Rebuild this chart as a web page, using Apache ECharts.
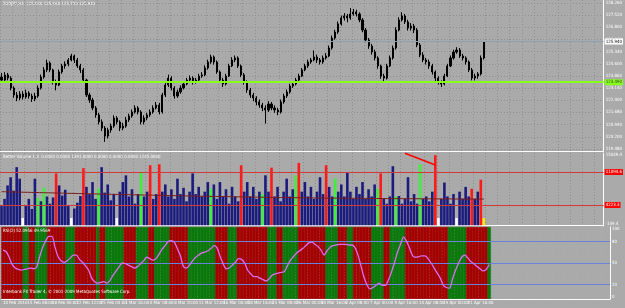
<!DOCTYPE html>
<html><head><meta charset="utf-8">
<script src="https://cdn.jsdelivr.net/npm/echarts@6/dist/echarts.min.js"></script>
<style>html,body{margin:0;padding:0;background:#aaaaaa;overflow:hidden}#c{width:625px;height:308px}</style>
</head><body><div id="c"></div>
<script>
// ---------- DATA ----------
const tickLabels = ["10 Feb 2010","15 Feb 08:00","18 Feb 00:00","22 Feb 12:00","25 Feb 04:00","1 Mar 16:00","4 Mar 08:00","8 Mar 20:00","11 Mar 12:00","16 Mar 00:00","18 Mar 16:00","23 Mar 08:00","26 Mar 00:00","30 Mar 16:00","2 Apr 08:00","7 Apr 00:00","9 Apr 16:00","14 Apr 08:00","19 Apr 00:00","21 Apr 16:00"];
const priceTicks = [119.48,120.20,120.94,121.68,122.40,123.14,123.86,124.60,125.34,126.06,126.80,127.52,128.26];
const opens = [123.80,123.62,123.93,123.74,123.14,122.72,122.54,122.78,122.60,122.84,
122.66,122.48,122.66,123.14,123.80,124.23,124.65,124.23,123.50,123.32,
124.11,124.47,124.59,124.83,125.07,124.83,124.47,124.23,123.62,122.72,
122.42,121.94,121.52,121.10,120.73,120.25,120.61,120.85,121.34,121.10,
120.73,120.85,121.22,121.46,121.70,121.94,121.70,121.10,121.34,121.52,
121.70,121.94,122.12,121.70,122.72,123.32,123.74,123.14,122.66,122.90,
123.14,123.38,123.62,123.74,123.50,123.62,123.86,123.93,124.35,124.71,
125.01,124.71,124.11,123.62,123.38,123.86,124.47,124.83,124.95,124.47,
123.93,123.50,123.02,122.72,122.54,122.30,122.12,121.94,121.82,122.18,
121.94,121.82,121.70,122.30,122.66,122.90,123.26,123.38,123.62,123.86,
124.23,124.47,124.71,124.83,125.01,124.83,124.71,124.95,125.07,125.55,
126.15,126.51,127.00,127.36,127.48,127.36,127.60,127.72,127.60,127.24,
126.63,126.03,125.67,125.31,124.95,124.47,123.86,123.74,124.47,124.95,
125.55,126.63,127.24,127.48,127.12,126.75,126.87,126.63,125.73,125.13,
124.83,124.71,124.47,124.11,123.74,123.50,123.38,123.86,124.47,124.95,
125.31,125.43,125.07,124.95,124.71,124.23,123.74,123.86,123.99,124.95];
const closes = [123.62,123.93,123.74,123.14,122.72,122.54,122.78,122.60,122.84,122.66,
122.48,122.66,123.14,123.80,124.23,124.65,124.23,123.50,123.32,124.11,
124.47,124.59,124.83,125.07,124.83,124.47,124.23,123.62,122.72,122.42,
121.94,121.52,121.10,120.73,120.25,120.61,120.85,121.34,121.10,120.73,
120.85,121.22,121.46,121.70,121.94,121.70,121.10,121.34,121.52,121.70,
121.94,122.12,121.70,122.72,123.32,123.74,123.14,122.66,122.90,123.14,
123.38,123.62,123.74,123.50,123.62,123.86,123.93,124.35,124.71,125.01,
124.71,124.11,123.62,123.38,123.86,124.47,124.83,124.95,124.47,123.93,
123.50,123.02,122.72,122.54,122.30,122.12,121.94,121.82,122.18,121.94,
121.82,121.70,122.30,122.66,122.90,123.26,123.38,123.62,123.86,124.23,
124.47,124.71,124.83,125.01,124.83,124.71,124.95,125.07,125.55,126.15,
126.51,127.00,127.36,127.48,127.36,127.60,127.72,127.60,127.24,126.63,
126.03,125.67,125.31,124.95,124.47,123.86,123.74,124.47,124.95,125.55,
126.63,127.24,127.48,127.12,126.75,126.87,126.63,125.73,125.13,124.83,
124.71,124.47,124.11,123.74,123.50,123.38,123.86,124.47,124.95,125.31,
125.43,125.07,124.95,124.71,124.23,123.74,123.86,123.99,124.95,125.94];
const lows = [123.45,123.50,123.60,123.00,122.55,122.35,122.40,122.45,122.50,122.50,
122.30,122.35,122.55,123.05,123.70,124.10,124.10,123.35,123.00,123.25,
124.00,124.30,124.45,124.75,124.65,124.35,124.05,123.50,122.60,122.25,
121.80,121.35,120.95,120.55,119.90,120.10,120.45,120.75,120.95,120.55,
120.60,120.75,121.10,121.35,121.60,121.55,120.95,120.95,121.20,121.40,
121.60,121.85,121.55,121.60,122.60,123.20,123.00,122.50,122.55,122.80,
123.05,123.30,123.50,123.35,123.40,123.55,123.75,123.85,124.25,124.60,
124.55,124.00,123.45,123.20,123.30,123.80,124.40,124.70,124.35,123.80,
123.35,122.85,122.55,122.35,122.10,121.95,121.75,121.00,121.70,121.80,
121.65,121.50,121.60,122.20,122.55,122.80,123.15,123.30,123.50,123.80,
124.15,124.35,124.60,124.75,124.65,124.55,124.60,124.85,125.00,125.45,
126.05,126.40,126.90,127.20,127.10,127.25,127.50,127.45,127.10,126.50,
125.90,125.50,125.15,124.80,124.30,123.70,123.55,123.65,124.40,124.85,
125.45,126.55,127.15,127.00,126.60,126.60,126.45,125.60,125.00,124.70,
124.55,124.30,123.95,123.55,123.35,123.20,123.30,123.80,124.40,124.85,
125.20,124.95,124.80,124.55,124.10,123.60,123.60,123.70,123.90,124.85];
const highs = [124.05,124.10,124.05,123.85,123.25,122.90,122.95,122.95,123.05,122.95,
122.80,122.85,123.30,123.95,124.40,124.85,124.75,124.30,123.65,124.25,
124.60,124.75,124.95,125.20,125.15,124.95,124.60,124.35,123.70,122.85,
122.55,122.05,121.65,121.25,120.85,120.75,121.00,121.50,121.45,121.20,
121.05,121.40,121.60,121.85,122.10,122.05,121.80,121.50,121.65,121.85,
122.10,122.30,122.25,122.85,123.45,123.95,123.85,123.25,123.05,123.30,
123.50,123.75,123.90,123.85,123.75,124.00,124.10,124.50,124.85,125.15,
125.10,124.80,124.20,123.75,124.00,124.60,125.00,125.10,125.05,124.55,
124.05,123.60,123.15,122.85,122.65,122.45,122.25,122.10,122.35,122.30,
122.10,121.95,122.45,122.80,123.05,123.40,123.55,123.75,124.00,124.35,
124.60,124.85,124.95,125.40,125.15,124.95,125.10,125.25,125.70,126.30,
126.65,127.15,127.50,127.65,127.60,127.95,127.90,127.85,127.70,127.35,
126.75,126.15,125.80,125.45,125.05,124.55,124.00,124.60,125.10,125.70,
126.80,127.40,127.70,127.60,127.25,127.05,127.00,126.75,125.85,125.30,
124.95,124.85,124.60,124.20,123.85,123.60,124.00,124.60,125.10,125.45,
125.60,125.55,125.20,125.05,124.80,124.35,124.00,124.10,125.10,125.96];
const currentPrice = 125.94;
const greenLevel = 123.49;

const volumes = [4000,5500,8300,10000,7200,12100,9700,1500,4000,5500,
3400,9700,5700,5000,7800,6000,4500,5800,10800,8300,
6200,7400,4000,1500,3500,4700,6100,11900,8000,6500,
9000,5500,7600,12100,6800,8500,5200,6500,1500,7000,
9000,10400,6000,7500,4500,6500,11000,6000,7000,12500,
5500,6500,12700,7000,8500,6000,7500,5500,9700,6500,
7800,5000,7000,10800,6500,8000,6000,7000,9000,7600,
8500,5500,9000,6000,7500,4500,8000,6000,5000,12500,
7000,9000,6000,8000,5500,7000,6500,10400,7000,12000,
6000,8000,5000,7000,9700,6000,7500,10400,13000,7000,
9000,6000,8000,5500,7000,10000,6500,12500,8000,6000,
9700,7000,8500,6000,11000,7000,5500,8000,6500,9000,
5500,7500,6000,8500,7600,10800,5500,4500,6000,12300,
6000,6100,4500,5500,10000,5000,6500,4500,12700,5500,
6000,5000,7000,14600,1500,5500,8900,6000,4500,6500,
1500,7000,5500,8000,6000,7600,5500,7000,9500,1500];
const volTypes = ['n','n','n','n','n','n','n','w','n','n',
'n','n','g','n','g','n','n','n','r','n',
'n','n','n','w','n','n','n','r','n','n',
'n','n','g','n','n','n','n','n','w','n',
'n','n','n','n','n','n','g','n','n','r',
'n','n','r','n','n','n','n','n','n','n',
'n','n','n','n','n','n','n','n','n','g',
'n','n','n','n','n','n','n','n','n','r',
'n','n','n','n','n','n','g','n','n','r',
'n','n','n','n','n','n','n','g','r','n',
'n','n','n','n','n','n','n','r','n','n',
'g','n','n','n','n','n','n','n','n','n',
'n','n','n','n','g','r','n','n','n','n',
'g','n','n','n','n','n','n','n','g','n',
'n','n','n','r','w','n','n','n','n','n',
'w','n','n','n','n','r','n','n','r','y'];
const volAvg = [[0,7000],[40,6400],[80,5900],[120,5600],[159,5450]];
const volLevels = [11094.6, 4223.3];
const volTrend = [[133,15000],[143,12550]];
const volRange = [-149.4, 15049.4];

const rsi = [68,66,58,48,43,41,40,41,42,43,
42,44,59,72,81,87,87,72,59,53,
51,53,57,61,61,55,51,46,40,29,
24,22,23,24,22,26,33,39,45,50,
49,47,45,43,45,49,53,58,56,54,
56,62,69,74,80,81,79,70,60,45,
43,47,53,58,61,64,65,67,70,74,
71,59,49,42,43,47,51,56,55,50,
40,35,31,31,29,27,25,28,33,35,
36,37,38,46,54,59,64,67,70,74,
78,79,76,73,68,61,67,72,74,75,
76,76,76,75,75,72,62,47,31,20,
14,16,19,22,19,19,26,37,50,65,
76,86,80,70,60,58,59,60,60,56,
50,43,36,29,19,16,15,28,40,50,
58,61,57,52,49,45,42,39,41,48];
const rsiLevels = [80,50,20];
const rsiTicks = [0,20,50,80,100];
const bands = [[0,6,'r'],[7,8,'g'],[9,10,'r'],[11,14,'g'],[15,20,'r'],[21,23,'g'],[24,30,'r'],[31,31,'g'],[32,33,'r'],[34,39,'g'],[40,43,'r'],[44,47,'g'],[48,49,'r'],[50,54,'g'],[55,60,'r'],[61,69,'g'],[70,73,'r'],[74,76,'g'],[77,86,'r'],[87,89,'g'],[90,91,'r'],[92,96,'g'],[97,105,'r'],[106,109,'g'],[110,112,'r'],[113,114,'g'],[115,120,'r'],[121,124,'g'],[125,126,'r'],[127,131,'g'],[132,145,'r'],[146,151,'g'],[152,158,'r'],[159,159,'g']];
const TOTAL_SLOTS = 199;

// ---------- BUILD ----------
const N = closes.length;
const cats = Array.from({length: TOTAL_SLOTS}, (_, i) => String(i));
const ohlc = closes.map((c, i) => [opens[i], c, lows[i], highs[i]]);
const VOLCOL = {n:'#1b1b7e', g:'#3cf03c', r:'#ff1a1a', w:'#ffffff', y:'#ffe600'};
const volData = volumes.map((v, i) => ({value: v, itemStyle: {color: VOLCOL[volTypes[i]]}}));
const BANDCOL = {r:'#a40000', g:'#0a780a'};
const bgData = new Array(N).fill(null);
bands.forEach(b => { for (let i = b[0]; i <= b[1]; i++) bgData[i] = {value: 100, itemStyle: {color: BANDCOL[b[2]], borderColor: BANDCOL[b[2]], borderWidth: 0.6}}; });

const FONT = "'Liberation Sans Narrow', 'DejaVu Sans Condensed', 'Liberation Sans', sans-serif";
const FS = 4.4;
const DOT = {color: '#8e8e8e', type: [1, 2], width: 1};
const axLine = {show: true, lineStyle: {color: '#ffffff', width: 1}};

function xAxisFor(gi, extra) {
  return Object.assign({
    type: 'category', gridIndex: gi, data: cats, boundaryGap: true,
    axisTick: {show: false}, axisLabel: {show: false}, axisLine: axLine,
    splitLine: {show: true, interval: 3, lineStyle: DOT}
  }, extra || {});
}

const option = {
  animation: false,
  backgroundColor: '#aaaaaa',
  textStyle: {fontFamily: FONT},
  grid: [
    {left: 0, right: 15, top: 0, height: 151},
    {left: 0, right: 15, top: 153, height: 73},
    {left: 0, right: 15, top: 227, height: 72}
  ],
  xAxis: [
    xAxisFor(0),
    xAxisFor(1),
    xAxisFor(2, {
      z: 3,
      splitLine: {show: true, interval: 3, lineStyle: {color: 'rgba(200,200,200,0.18)', type: [1, 2], width: 1}},
      axisLabel: {show: true, interval: 7, color: '#ffffff', fontSize: FS, fontFamily: FONT, align: 'left', margin: 2,
        showMinLabel: true, hideOverlap: false,
        formatter: (v, idx) => (idx % 8 === 0 && tickLabels[idx / 8]) ? tickLabels[idx / 8] : ''}
    })
  ],
  yAxis: [
    {type: 'value', gridIndex: 0, position: 'right', min: 119.35, max: 128.44, scale: true,
      axisLine: axLine, axisTick: {show: false, customValues: priceTicks},
      axisLabel: {color: '#ffffff', fontSize: FS, fontFamily: FONT, margin: 2, customValues: priceTicks,
        formatter: v => v.toFixed(3)},
      splitLine: {show: true, lineStyle: DOT}},
    {type: 'value', gridIndex: 1, position: 'right', min: volRange[0], max: volRange[1],
      axisLine: axLine, axisTick: {show: false, customValues: volRange},
      axisLabel: {color: '#ffffff', fontSize: FS, fontFamily: FONT, margin: 2, customValues: volRange,
        verticalAlignMaxLabel: 'top', verticalAlignMinLabel: 'bottom', formatter: v => v.toFixed(1)},
      splitLine: {show: false}},
    {type: 'value', gridIndex: 2, position: 'right', min: 0, max: 100,
      axisLine: axLine, axisTick: {show: false, customValues: rsiTicks},
      axisLabel: {color: '#ffffff', fontSize: FS, fontFamily: FONT, margin: 2, customValues: rsiTicks,
        verticalAlignMaxLabel: 'top', verticalAlignMinLabel: 'bottom'},
      splitLine: {show: false}}
  ],
  graphic: [
    {type: 'text', left: 3, top: 2, style: {text: 'EURJPY,H4  125.930 125.960 125.790 125.940', fill: '#ffffff', font: FS + 'px ' + FONT}},
    {type: 'text', left: 3, top: 155, style: {text: 'Better Volume 1.3  0.0000 0.0000 1391.0000 0.0000 0.0000 0.0000 1245.0000', fill: '#ffffff', font: FS + 'px ' + FONT}, z: 10},
    {type: 'text', left: 3, top: 229, style: {text: 'RSI(2) 52.0956 49.9569', fill: '#ffffff', font: FS + 'px ' + FONT}, z: 10},
    {type: 'text', left: 3, top: 290, style: {text: 'Interbank FX Trader 4, \u00a9 2001-2009 MetaQuotes Software Corp.', fill: '#ffffff', font: FS + 'px ' + FONT}, z: 10}
  ],
  series: [
    {type: 'candlestick', xAxisIndex: 0, yAxisIndex: 0, data: ohlc, barWidth: 1.6,
      itemStyle: {color: '#000000', color0: '#000000', borderColor: '#000000', borderColor0: '#000000', borderWidth: 1},
      markLine: {silent: true, symbol: 'none', animation: false,
        data: [
          {yAxis: currentPrice, lineStyle: {color: '#8c9fb4', width: 1, type: 'solid'},
            label: {show: true, position: 'end', distance: 1, formatter: currentPrice.toFixed(3), backgroundColor: '#ffffff', color: '#000000', fontSize: FS, fontFamily: FONT, padding: [1, 1]}},
          {yAxis: greenLevel, lineStyle: {color: '#86ff1a', width: 2, type: 'solid'},
            label: {show: true, position: 'end', distance: 1, formatter: greenLevel.toFixed(3), backgroundColor: '#86ff1a', color: '#333333', fontSize: FS, fontFamily: FONT, padding: [1, 1]}}
        ]}},
    {type: 'bar', xAxisIndex: 1, yAxisIndex: 1, data: volData, barWidth: 2.6,
      markLine: {silent: true, symbol: 'none', animation: false,
        data: volLevels.map(v => ({yAxis: v, lineStyle: {color: '#d23a3a', width: 1, type: 'solid'},
          label: {show: true, position: 'end', distance: 1, formatter: v.toFixed(1), backgroundColor: '#ff0000', color: '#ffffff', fontSize: FS, fontFamily: FONT, padding: [1, 1]}}))
          .concat([[{coord: volTrend[0]}, {coord: volTrend[1], lineStyle: {color: '#ff0000', width: 1.5, type: 'solid'}, label: {show: false}}]])}},
    {type: 'line', xAxisIndex: 1, yAxisIndex: 1, data: volAvg, symbol: 'none', smooth: true,
      lineStyle: {color: '#7a1c1c', width: 1}, z: 4},
    {type: 'bar', xAxisIndex: 2, yAxisIndex: 2, data: bgData, barWidth: 3.4, silent: true, z: 1},
    {type: 'line', xAxisIndex: 2, yAxisIndex: 2, data: rsi, symbol: 'none', smooth: 0.3,
      lineStyle: {color: '#dc6cf6', width: 1.3}, z: 5,
      markLine: {silent: true, symbol: 'none', animation: false,
        lineStyle: {color: '#6a82dc', width: 1, type: 'solid'}, label: {show: false},
        data: rsiLevels.map(v => ({yAxis: v}))}}
  ]
};
const chart = echarts.init(document.getElementById('c'), null, {renderer: 'canvas', width: 625, height: 308});
chart.setOption(option);
</script>
</body></html>
